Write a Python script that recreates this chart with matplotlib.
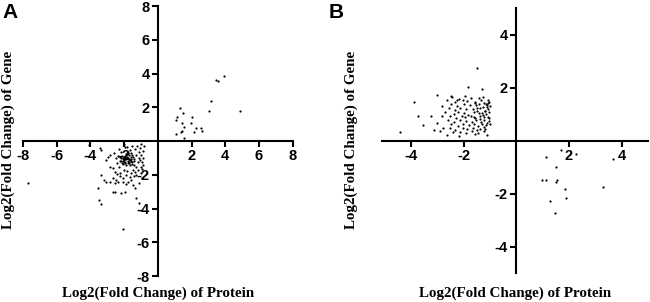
import numpy as np
import matplotlib
matplotlib.use('Agg')
import matplotlib.pyplot as plt

# panel A: log2 fold change protein (x) vs gene (y)
a_up_x = [3.47, 3.56, 3.92, 3.15, 3.01, 4.85, 1.31, 1.48, 1.13, 1.05, 2.00, 1.96, 1.41, 1.58,
          1.42, 1.37, 1.09, 1.54, 2.26, 2.55, 2.61, 2.14]
a_up_y = [3.61, 3.54, 3.85, 2.39, 1.80, 1.76, 1.97, 1.66, 1.42, 1.26, 1.44, 1.08, 1.08, 0.85,
          0.57, 0.53, 0.41, 0.20, 0.79, 0.79, 0.57, 0.55]

a_down_x = [-7.71, -2.08, -3.50, -3.36, -3.54, -2.67, -2.53, -2.17, -1.92, -1.29, -1.13, -1.33,
            -1.48, -4.10, -3.46, -3.36, -3.36, -3.22, -3.06, -2.86, -2.57, -2.37, -2.67, -2.47,
            -2.27, -2.86, -2.67, -3.06, -2.96, -2.86, -1.78, -1.58, -1.39, -1.19, -0.99,
            -2.62, -2.48, -2.41, -2.57, -2.33, -2.28, -2.23, -2.07, -2.02, -1.88, -1.83, -1.66,
            -1.62, -1.47, -1.37, -1.32, -1.18, -1.12, -0.98, -0.93, -0.91, -1.07, -1.22, -1.36,
            -1.52, -1.63, -1.82, -2.01, -1.94, -2.17, -1.27, -1.02, -0.96, -1.14, -1.91, -2.06,
            -2.42, -0.86, -0.92, -1.09, -1.31, -1.42, -2.26, -2.38, -1.44,
            -2.12, -2.03, -1.88, -1.81, -1.72, -1.58, -2.17, -2.02, -1.97, -1.83, -1.77, -1.63,
            -1.57, -2.21, -2.08, -2.01, -1.92, -1.78, -1.71, -1.62, -1.52, -2.13, -2.06, -1.93,
            -1.87, -1.73, -1.66, -1.54, -1.98, -1.91, -1.79, -1.69, -1.96, -1.84, -1.76, -1.61,
            -1.51, -1.46, -2.24, -1.41, -0.85, -1.00, -0.90, -1.05]
a_down_y = [-2.47, -5.23, -3.50, -3.73, -2.80, -3.05, -3.00, -3.10, -3.03, -3.40, -3.68, -2.79,
            -2.59, -0.25, -0.44, -0.53, -2.00, -2.30, -2.40, -2.40, -2.50, -2.45, -2.19, -2.29,
            -2.10, -1.52, -1.62, -1.13, -0.93, -0.83, -2.40, -2.30, -2.10, -1.70, -1.52,
            -0.72, -1.03, -1.28, -1.83, -1.57, -0.48, -1.92, -2.18, -1.71, -2.03, -1.77, -2.12,
            -1.88, -1.73, -1.82, -1.53, -1.27, -0.98, -0.83, -1.22, -0.58, -0.42, -0.28, -0.47,
            -0.31, -0.52, -0.33, -0.18, -0.37, -0.68, -2.02, -1.87, -2.22, -2.48, -2.53, -2.43,
            -1.98, -1.42, -1.68, -0.63, -0.82, -1.08, -1.18, -0.88, -1.43,
            -0.87, -0.92, -0.78, -0.93, -0.84, -0.97, -1.02, -1.07, -0.98, -1.03, -1.01, -1.12,
            -1.04, -1.17, -1.21, -1.13, -1.22, -1.16, -1.27, -1.18, -1.26, -1.32, -1.37, -1.29,
            -1.42, -1.33, -1.41, -1.36, -1.24, -1.08, -1.31, -1.06, -0.96, -0.74, -0.71, -0.69,
            -0.81, -0.94, -0.96, -1.21, -0.30, -0.15, -1.00, -1.10]

# panel B
b_up_x = [-2.43, -2.17, -1.93, -1.72, -1.43, -1.27, -1.08,
          -2.63, -2.31, -2.02, -1.87, -1.58, -1.33, -1.21, -1.04, -1.16,
          -2.48, -2.27, -1.98, -1.77, -1.53, -1.41, -1.26, -1.11, -1.01,
          -2.56, -2.33, -2.12, -1.92, -1.66, -1.49, -1.37, -1.19, -1.06, -1.13,
          -2.71, -2.38, -2.22, -1.97, -1.82, -1.61, -1.43, -1.31, -1.16, -1.02,
          -2.52, -2.28, -2.08, -1.96, -1.73, -1.57, -1.38, -1.24, -1.09,
          -2.58, -2.37, -2.13, -1.91, -1.68, -1.52, -1.34, -1.21, -1.04,
          -2.47, -2.23, -2.01, -1.79, -1.62, -1.44, -1.29, -1.17, -1.01,
          -2.53, -2.32, -2.04, -1.86, -1.63, -1.51, -1.36, -1.19,
          -2.41, -2.14, -1.92, -1.69, -1.46, -1.24,
          -2.65, -2.18, -1.13, -1.55,
          -4.42, -3.88, -3.73, -3.54, -3.24, -3.12, -3.03, -2.84, -2.84, -2.78, -2.48, -2.27,
          -1.82, -1.51, -1.32, -3.00, -2.90,
          -1.08, -1.18, -1.02, -1.28, -1.12, -1.22, -1.38, -1.48, -1.58, -1.62]
b_up_y = [1.64, 1.57, 1.67, 1.61, 1.59, 1.63, 1.53,
          1.51, 1.46, 1.54, 1.49, 1.44, 1.52, 1.43, 1.47, 1.38,
          1.36, 1.29, 1.39, 1.33, 1.35, 1.37, 1.28, 1.34, 1.31,
          1.22, 1.16, 1.23, 1.18, 1.19, 1.24, 1.21, 1.13, 1.17, 1.26,
          1.06, 1.01, 1.09, 1.03, 0.98, 1.07, 1.02, 1.05, 1.00, 1.06,
          0.91, 0.86, 0.94, 0.87, 0.91, 0.84, 0.93, 0.89, 0.88,
          0.77, 0.71, 0.79, 0.74, 0.70, 0.77, 0.69, 0.76, 0.73,
          0.61, 0.56, 0.63, 0.57, 0.62, 0.55, 0.61, 0.59, 0.62,
          0.46, 0.41, 0.49, 0.43, 0.47, 0.39, 0.44, 0.43,
          0.31, 0.33, 0.27, 0.34, 0.29, 0.36,
          0.22, 0.18, 0.22, 0.25,
          0.31, 1.45, 0.91, 0.60, 0.91, 0.41, 1.73, 1.32, 0.91, 0.47, 1.67, 1.54,
          2.02, 2.74, 1.95, 0.65, 0.35,
          1.42, 1.10, 0.85, 0.95, 0.65, 0.50, 0.80, 1.12, 1.40, 0.90]

b_down_x = [1.12, 1.70, 2.26, 1.50, 0.97, 1.12, 1.50, 1.53, 1.83, 1.88, 1.28, 1.47, 3.28, 3.69]
b_down_y = [-0.61, -0.36, -0.50, -0.99, -1.48, -1.48, -1.55, -1.48, -1.82, -2.17, -2.30, -2.74,
            -1.75, -0.70]

ticks_a = [-8, -6, -4, -2, 2, 4, 6, 8]
ticks_b = [-4, -2, 2, 4]

serif = 'Liberation Serif'
sans = 'Liberation Sans'


def style_axes(ax, ticks):
    ax.spines['left'].set_position(('data', 0))
    ax.spines['bottom'].set_position(('data', 0))
    ax.spines['top'].set_visible(False)
    ax.spines['right'].set_visible(False)
    for s in ['left', 'bottom']:
        ax.spines[s].set_linewidth(1.5)
    ax.set_xticks(ticks)
    ax.set_yticks(ticks)
    ax.set_xticklabels([str(t) for t in ticks], fontfamily=sans, fontweight='bold', fontsize=10.5)
    ax.set_yticklabels([str(t) for t in ticks], fontfamily=sans, fontweight='bold', fontsize=10.5)
    ax.tick_params(direction='out', length=4.5, width=1.5, pad=1.5)


fig = plt.figure(figsize=(6.5, 3.02), dpi=100)

ax1 = fig.add_axes([23 / 650, 1 - 276 / 302, 269.7 / 650, 270 / 302])
ax1.scatter(a_up_x, a_up_y, s=2.5, c='black', linewidths=0)
ax1.scatter(a_down_x, a_down_y, s=2.5, c='black', linewidths=0)
ax1.set_xlim(-8, 8)
ax1.set_ylim(-8, 8)
style_axes(ax1, ticks_a)

ax2 = fig.add_axes([382 / 650, 1 - 273 / 302, 266 / 650, 265 / 302])
ax2.scatter(b_up_x, b_up_y, s=2.5, c='black', linewidths=0)
ax2.scatter(b_down_x, b_down_y, s=2.5, c='black', linewidths=0)
ax2.set_xlim(-5.1, 5.0)
ax2.set_ylim(-5, 5)
style_axes(ax2, ticks_b)

# axis titles and panel letters
lab = dict(fontfamily=serif, fontweight='bold', fontsize=10.8, ha='center', va='center')
fig.text(158 / 650, 1 - 293 / 302, 'Log2(Fold Change) of Protein', **lab)
fig.text(515 / 650, 1 - 293 / 302, 'Log2(Fold Change) of Protein', **lab)
fig.text(8 / 650, 1 - 140 / 302, 'Log2(Fold Change) of Gene', rotation=90, **lab)
fig.text(351 / 650, 1 - 140 / 302, 'Log2(Fold Change) of Gene', rotation=90, **lab)
fig.text(2 / 650, 1 - 3 / 302, 'A', fontfamily=sans, fontweight='bold', fontsize=15, va='top')
fig.text(329 / 650, 1 - 3 / 302, 'B', fontfamily=sans, fontweight='bold', fontsize=15, va='top')

fig.savefig('out.png', dpi=100)
